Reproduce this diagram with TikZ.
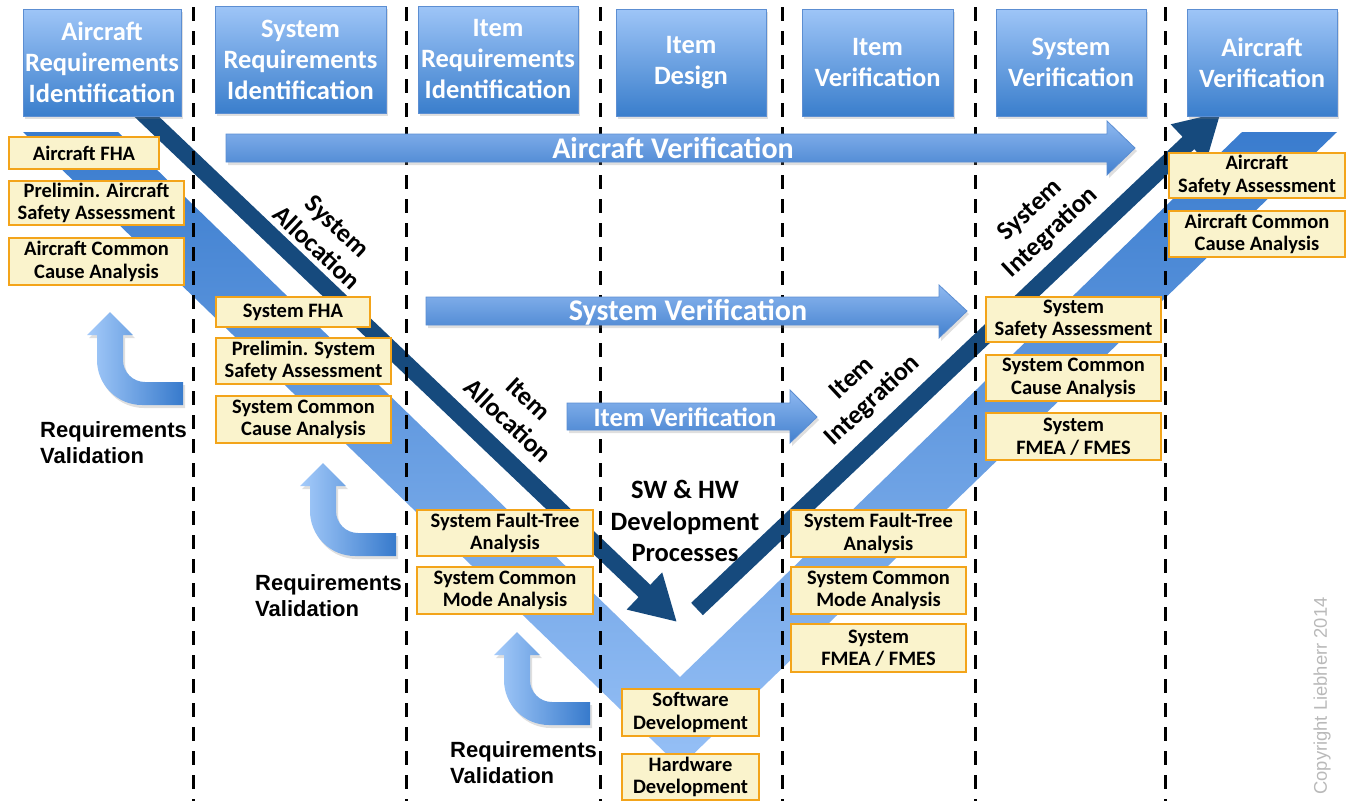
\documentclass[tikz,border=0pt]{standalone}
\usepackage{fontspec}
\setmainfont{Carlito}
\newfontfamily\arialfont{Liberation Sans}
\usetikzlibrary{positioning,arrows.meta,shadows}
\definecolor{phtop}{RGB}{158,197,247}
\definecolor{phbot}{RGB}{58,126,204}
\definecolor{phedge}{RGB}{92,142,210}
\definecolor{vtop}{RGB}{58,124,206}
\definecolor{vbot}{RGB}{150,192,246}
\definecolor{navy}{RGB}{22,74,125}
\definecolor{boxfill}{RGB}{250,243,204}
\definecolor{boxedge}{RGB}{243,164,26}
\definecolor{arrtop}{RGB}{142,184,240}
\definecolor{arrbot}{RGB}{66,128,206}
\definecolor{valleft}{RGB}{165,203,250}
\definecolor{valright}{RGB}{55,122,204}
\definecolor{copygray}{RGB}{185,185,185}

\tikzset{
  softshadow/.style={drop shadow={opacity=0.25,shadow xshift=2pt,shadow yshift=-3pt}},
  phase/.style={top color=phtop, bottom color=phbot, draw=phedge, text=white,
    font=\fontsize{26.5}{31}\selectfont\bfseries, align=center, inner sep=0pt,
    minimum width=150pt, minimum height=107pt, softshadow},
  safety/.style={draw=boxedge, fill=boxfill, line width=2pt, align=center,
    inner sep=0pt, minimum width=175pt, minimum height=46pt, anchor=north west,
    font=\fontsize{20.5}{22.5}\selectfont\bfseries},
  lane/.style={line width=3pt, dash pattern=on 14pt off 10pt},
  flow/.style={navy, line width=17pt, -{Triangle[length=45pt,width=48pt]}},
  verarrow/.style={top color=arrtop, bottom color=arrbot, draw=phedge, line width=0.8pt, softshadow},
  vertext/.style={text=white, inner sep=0pt, font=\fontsize{30}{30}\selectfont\bfseries},
  valarrow/.style={left color=valleft, right color=valright, softshadow},
  steplabel/.style={font=\fontsize{26}{30}\selectfont\bfseries, align=center, inner sep=0pt},
  reqlabel/.style={font=\arialfont\fontsize{22}{26}\selectfont\bfseries, align=left,
    inner sep=0pt, anchor=north west}
}

\begin{document}
\begin{tikzpicture}[x=1pt,y=-1pt]
  \useasboundingbox (0,0) rectangle (1351,801);

  % The V band.
  \shade[top color=vtop, bottom color=vbot] (23,132) -- (118,132) -- (680,677)
    -- (1242,132) -- (1337,132) -- (680,767) -- cycle;

  % Allocation and integration.
  \coordinate (allocstart) at (135.5,106);
  \coordinate (allocend) at (677,622);
  \coordinate (integstart) at (697,609);
  \coordinate (integend) at (1221,112);
  \draw[flow] (allocstart) -- (allocend);
  \draw[flow] (integstart) -- (integend);

  % Phase borders.
  \foreach \x in {193,406,600,782,975,1165}
    \draw[lane] (\x,7) -- (\x,801);

  % Verification arrows.
  \shade[verarrow] (226,134) -- (1107,134) -- (1107,121) -- (1135,148)
    -- (1107,175) -- (1107,162) -- (226,162) -- cycle;
  \node[vertext] (acver) at (673,148) {Aircraft Verification};
  \shade[verarrow] (426,297) -- (939,297) -- (939,285) -- (967,311)
    -- (939,338) -- (939,325) -- (426,325) -- cycle;
  \node[vertext] (sysver) at (688,312) {System Verification};
  \shade[verarrow] (567,403) -- (790,403) -- (790,390) -- (817,417)
    -- (790,443) -- (790,430) -- (567,430) -- cycle;
  \node[vertext, font=\fontsize{26.5}{26.5}\selectfont\bfseries] (itemver) at (685,417) {Item Verification};

  % Requirements validation turns.
  \foreach \tx/\ty in {110/312, 323/463, 517/632}
    \shade[valarrow, shift={(\tx,\ty)}] (0,0) -- (23,23) -- (13,23) -- (13,48)
      arc[start angle=180, end angle=90, radius=22] -- (73,70) -- (73,93) -- (32,93)
      arc[start angle=90, end angle=180, radius=45] -- (-13,23) -- (-23,23) -- cycle;

  % Phase headers.
  \node[phase, minimum width=158pt] (acreq) at (102,62.5) {Aircraft\\Requirements\\Identification};
  \node[phase, minimum width=171pt] (sysreq) at (300.5,59.5) {System\\Requirements\\Identification};
  \node[phase, minimum width=160pt] (itemreq) at (498,59.5) {Item\\Requirements\\Identification};
  \node[phase] (itemdes) at (691,62.5) {Item\\Design};
  \node[phase, minimum width=151pt] (itemverbox) at (877.5,62.5) {Item\\Verification};
  \node[phase] (sysverbox) at (1071,62.5) {System\\Verification};
  \node[phase] (acverbox) at (1262,62.5) {Aircraft\\Verification};

  % Safety analyses, aircraft level.
  \node[safety, minimum width=150pt, minimum height=32pt] (acfha) at (8,136) {Aircraft FHA};
  \node[safety, minimum height=44pt, below=10pt of acfha.south west, anchor=north west] (acpsa) {Prelimin. Aircraft\\Safety Assessment};
  \node[safety, minimum height=47pt, below=11pt of acpsa.south west, anchor=north west] (accca) {Aircraft Common\\Cause Analysis};

  % Safety analyses, system level.
  \node[safety, minimum width=154pt, minimum height=30pt] (sysfha) at (215,296) {System FHA};
  \node[safety, below=9pt of sysfha.south west, anchor=north west] (syspsa) {Prelimin. System\\Safety Assessment};
  \node[safety, minimum height=47pt, below=10pt of syspsa.south west, anchor=north west] (sysccaleft) {System Common\\Cause Analysis};

  % Safety analyses, item level.
  \node[safety, minimum width=176pt] (sftaleft) at (416,509) {System Fault-Tree\\Analysis};
  \node[safety, minimum width=176pt, minimum height=47pt, below=9pt of sftaleft.south west, anchor=north west] (scmaleft) {System Common\\Mode Analysis};

  % Development.
  \node[safety, minimum width=137pt, minimum height=47pt] (swdev) at (621,688) {Software\\Development};
  \node[safety, minimum width=137pt, below=16pt of swdev.south west, anchor=north west] (hwdev) {Hardware\\Development};

  % Safety analyses, item integration.
  \node[safety, minimum height=47pt] (sftaright) at (790,509) {System Fault-Tree\\Analysis};
  \node[safety, minimum height=47pt, below=8pt of sftaright.south west, anchor=north west] (scmaright) {System Common\\Mode Analysis};
  \node[safety, minimum height=48pt, below=8pt of scmaright.south west, anchor=north west] (fmeaitem) {System\\FMEA / FMES};

  % Safety analyses, system integration.
  \node[safety, minimum height=45pt] (sysssa) at (985,296) {System\\Safety Assessment};
  \node[safety, below=11pt of sysssa.south west, anchor=north west] (sysccaright) {System Common\\Cause Analysis};
  \node[safety, minimum height=47pt, below=10pt of sysccaright.south west, anchor=north west] (fmeasys) {System\\FMEA / FMES};

  % Safety analyses, aircraft integration.
  \node[safety, minimum width=176pt, minimum height=45pt] (acsa) at (1168,152) {Aircraft\\Safety Assessment};
  \node[safety, minimum width=176pt, below=11pt of acsa.south west, anchor=north west] (acccaright) {Aircraft Common\\Cause Analysis};

  % Step labels.
  \node[steplabel, rotate=-43] (sysalloc) at (327,237) {System\\Allocation};
  \node[steplabel, rotate=-43] (itemalloc) at (518,410) {Item\\Allocation};
  \node[steplabel, rotate=43] (sysinteg) at (1041,222) {System\\Integration};
  \node[steplabel, rotate=43] (iteminteg) at (863,390) {Item\\Integration};
  \node[steplabel, font=\fontsize{26.5}{31.5}\selectfont\bfseries] (swhw) at (685,521) {SW \& HW\\Development\\Processes};

  \node[reqlabel] (reqvalac) at (40,421) {Requirements\\Validation};
  \node[reqlabel] (reqvalsys) at (255,574) {Requirements\\Validation};
  \node[reqlabel] (reqvalitem) at (450,741) {Requirements\\Validation};

  \node[rotate=90, text=copygray, font=\arialfont\fontsize{18.4}{20}\selectfont] (copy) at (1322,696) {Copyright Liebherr 2014};

\end{tikzpicture}
\end{document}
